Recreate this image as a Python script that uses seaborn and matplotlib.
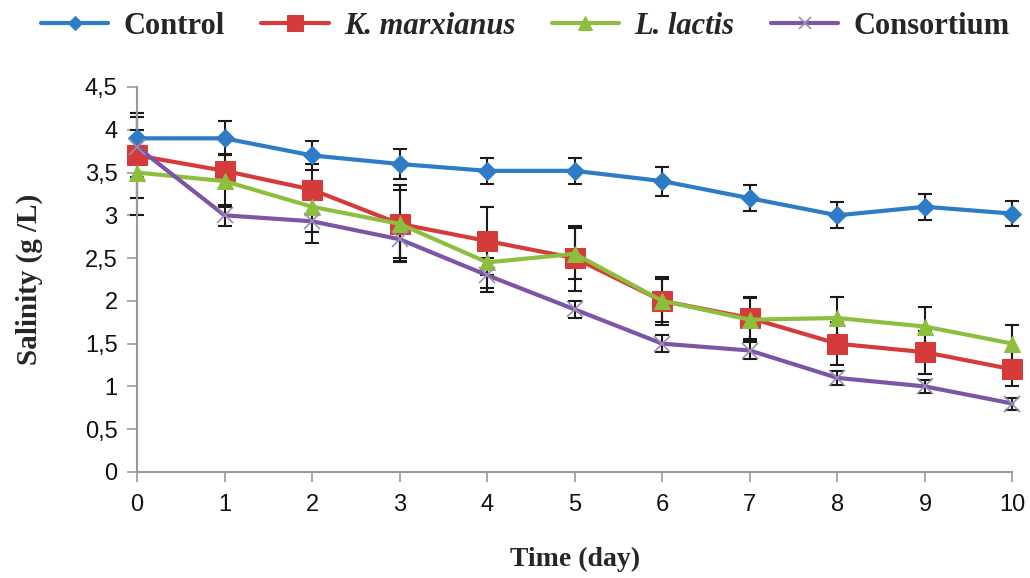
import numpy as np
import pandas as pd
import matplotlib
matplotlib.use("Agg")
import matplotlib.pyplot as plt
import seaborn as sns

days = [0, 1, 2, 3, 4, 5, 6, 7, 8, 9, 10]
series_names = ["Control", "K. marxianus", "L. lactis", "Consortium"]
control = [3.9, 3.9, 3.7, 3.6, 3.52, 3.52, 3.4, 3.2, 3.0, 3.1, 3.02]
k_marxianus = [3.7, 3.52, 3.3, 2.9, 2.7, 2.5, 2.0, 1.8, 1.5, 1.4, 1.2]
l_lactis = [3.5, 3.4, 3.1, 2.9, 2.45, 2.55, 2.0, 1.78, 1.8, 1.7, 1.5]
consortium = [3.8, 3.0, 2.93, 2.72, 2.3, 1.9, 1.5, 1.42, 1.1, 1.0, 0.8]
control_err = [0.3, 0.2, 0.17, 0.17, 0.15, 0.15, 0.17, 0.15, 0.15, 0.15, 0.15]
k_marxianus_err = [0.5, 0.2, 0.3, 0.45, 0.4, 0.38, 0.28, 0.25, 0.25, 0.25, 0.2]
l_lactis_err = [0.5, 0.3, 0.3, 0.4, 0.3, 0.3, 0.25, 0.25, 0.25, 0.23, 0.22]
consortium_err = [0.35, 0.12, 0.25, 0.25, 0.2, 0.1, 0.1, 0.1, 0.08, 0.08, 0.07]
y_ticks = [0, 0.5, 1, 1.5, 2, 2.5, 3, 3.5, 4, 4.5]
y_tick_labels = ["0", "0,5", "1", "1,5", "2", "2,5", "3", "3,5", "4", "4,5"]

values = [control, k_marxianus, l_lactis, consortium]
errors = [control_err, k_marxianus_err, l_lactis_err, consortium_err]
df = pd.DataFrame({
    "day": days * 4,
    "salinity": sum(values, []),
    "err": sum(errors, []),
    "series": [s for s in series_names for _ in days],
})

sns.set_style("white")
plt.rcParams["font.family"] = ["Liberation Sans", "DejaVu Sans"]

colors = {"Control": "#2E7BC6", "K. marxianus": "#D63B3B",
          "L. lactis": "#8DBF3F", "Consortium": "#7D55A6"}
markers = {"Control": "D", "K. marxianus": "s", "L. lactis": "^", "Consortium": "X"}
msizes = {"Control": 9, "K. marxianus": 14, "L. lactis": 12, "Consortium": 11}

fig = plt.figure(figsize=(10.3, 5.78), dpi=100)
ax = fig.add_axes([0.133, 0.1834, 0.850, 0.6661])

for s in series_names:
    sub = df[df["series"] == s]
    eb = ax.errorbar(sub["day"], sub["salinity"], yerr=sub["err"], fmt="none",
                     ecolor="#1a1a1a", elinewidth=1.5, capsize=5, capthick=1.5, zorder=2)
    for art in eb.get_children():
        art.set_clip_on(False)

for s in series_names:
    sub = df[df["series"] == s]
    if s == "Consortium":
        sns.lineplot(data=sub, x="day", y="salinity", ax=ax, color=colors[s],
                     lw=3, marker="x", markersize=msizes[s], markeredgewidth=1.2,
                     markeredgecolor="#9a8fb0", label=s, zorder=3, clip_on=False)
    else:
        sns.lineplot(data=sub, x="day", y="salinity", ax=ax, color=colors[s],
                     lw=3, marker=markers[s], markersize=msizes[s],
                     markeredgecolor=colors[s], label=s, zorder=3, clip_on=False)

ax.set_xlim(0, 10)
ax.set_ylim(0, 4.5)
ax.set_xticks(days)
ax.set_xticklabels([str(d) for d in days], fontsize=17)
ax.set_yticks(y_ticks)
ax.set_yticklabels(y_tick_labels, fontsize=17)
ax.tick_params(axis="both", direction="out", length=7, width=1.2, color="#999999",
               bottom=True, left=True, labelcolor="#111111")
ax.tick_params(axis="x", pad=9)
ax.tick_params(axis="y", pad=7)
for sp in ["top", "right"]:
    ax.spines[sp].set_visible(False)
for sp in ["left", "bottom"]:
    ax.spines[sp].set_color("#999999")
    ax.spines[sp].set_linewidth(1.5)
ax.set_xlabel("Time (day)", fontsize=20, fontweight="bold", family="Liberation Serif", labelpad=22)
ax.set_ylabel("Salinity (g /L)", fontsize=21, fontweight="bold", family="Liberation Serif", labelpad=30)

handles, labels = ax.get_legend_handles_labels()
leg = fig.legend(handles, labels, loc="center", bbox_to_anchor=(0.51, 0.955), ncol=4,
                 frameon=False, handlelength=2.2, handletextpad=0.5, columnspacing=1.2,
                 markerscale=0.8,
                 prop={"family": "Liberation Serif", "weight": "bold", "size": 22})
for t in leg.get_texts():
    if t.get_text() in ("K. marxianus", "L. lactis"):
        t.set_fontstyle("italic")
ax.get_legend().remove()
ax.grid(False)

fig.savefig("out.png", dpi=100)
